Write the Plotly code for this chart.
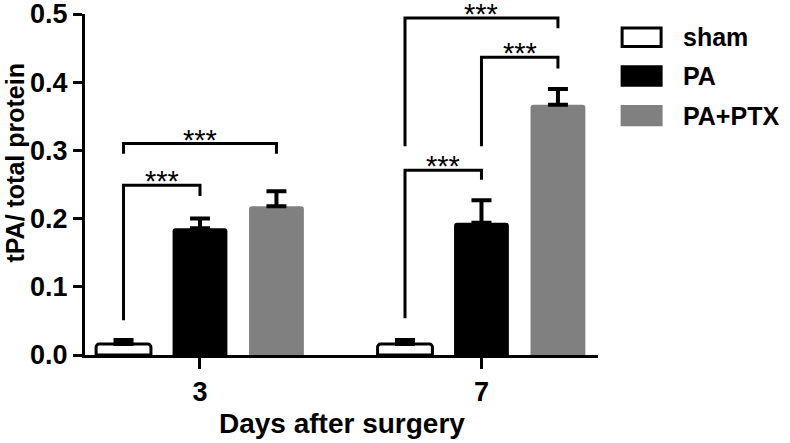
import plotly.graph_objects as go

days = ["3", "7"]
groups = ["sham", "PA", "PA+PTX"]
means = {
    "sham": [0.016, 0.016],
    "PA": [0.186, 0.194],
    "PA+PTX": [0.218, 0.367],
}
sems = {
    "sham": [0.006, 0.006],
    "PA": [0.014, 0.033],
    "PA+PTX": [0.022, 0.023],
}
colors = {"sham": "white", "PA": "black", "PA+PTX": "#808080"}
y_ticks = [0.0, 0.1, 0.2, 0.3, 0.4, 0.5]

# significance brackets: (day index, group a, group b, bar height, leg a end, leg b end)
brackets = [
    (0, 0, 1, 0.249, 0.051, 0.233),
    (0, 0, 2, 0.310, 0.295, 0.295),
    (1, 0, 1, 0.271, 0.054, 0.257),
    (1, 1, 2, 0.4365, 0.306, 0.420),
    (1, 0, 2, 0.494, 0.306, 0.479),
]
stars = "***"

FONT = "Liberation Sans, Arial, sans-serif"
bargap = 0.185
slot = (1 - bargap) / 3

fig = go.Figure()
for g in groups:
    fig.add_trace(go.Bar(
        x=[0, 1], y=means[g], name=g,
        marker=dict(color=colors[g], line=dict(color="black", width=3 if g == "sham" else 0),
                    cornerradius=3),
        error_y=dict(type="data", array=sems[g], symmetric=False, arrayminus=[0, 0],
                     color="black", thickness=4, width=10),
        showlegend=False,
    ))

for day, a, b, h, ya, yb in brackets:
    xa = day + (a - 1) * slot
    xb = day + (b - 1) * slot
    fig.add_shape(type="path", xref="x", yref="y",
                  path=f"M {xa} {ya} L {xa} {h} L {xb} {h} L {xb} {yb}",
                  line=dict(color="black", width=3))
    fig.add_annotation(x=(xa + xb) / 2, y=h, xref="x", yref="y", text=stars,
                       showarrow=False, yanchor="middle", yshift=4,
                       font=dict(family=FONT, size=29, color="black"))

# legend drawn by hand so the keys are wide rounded boxes
legend_rows = [(0.932, "sham"), (0.818, "PA"), (0.702, "PA+PTX")]
for yc, g in legend_rows:
    fig.add_shape(type="rect", xref="paper", yref="paper",
                  x0=1.047, x1=1.123, y0=yc - 0.027, y1=yc + 0.027,
                  fillcolor=colors[g], line=dict(color="black" if g == "sham" else colors[g], width=3))
    fig.add_annotation(x=1.161, y=yc, xref="paper", yref="paper", text=g, showarrow=False,
                       xanchor="left", yanchor="middle",
                       font=dict(family=FONT, size=25, color="black", weight="bold"))

fig.add_annotation(x=-0.136, y=0.565, xref="paper", yref="paper", text="tPA/ total protein",
                   textangle=-90, showarrow=False, xanchor="center", yanchor="middle",
                   font=dict(family=FONT, size=25, color="black", weight="bold"))
fig.add_annotation(x=0.5, y=-0.2, xref="paper", yref="paper", text="Days after surgery",
                   showarrow=False, xanchor="center", yanchor="middle",
                   font=dict(family=FONT, size=28, color="black", weight="bold"))

fig.update_layout(
    width=790, height=443,
    margin=dict(l=85, r=192, t=14, b=88),
    paper_bgcolor="white", plot_bgcolor="white",
    barmode="group", bargap=bargap, bargroupgap=0.283,
    font=dict(family=FONT, size=27, color="black"),
)
fig.update_xaxes(
    range=[-0.4085, 1.414], tickvals=[0, 1], ticktext=days, automargin=False,
    showline=True, linecolor="black", linewidth=3, showgrid=False, zeroline=False,
    ticks="outside", ticklen=11, tickwidth=3, tickcolor="black",
    tickfont=dict(family=FONT, size=27, weight="bold"),
)
fig.update_yaxes(
    range=[0, 0.5], tickvals=y_ticks, ticktext=[f"{v:.1f}" for v in y_ticks], automargin=False,
    showline=True, linecolor="black", linewidth=3, showgrid=False, zeroline=False,
    ticks="outside", ticklen=9, tickwidth=3, tickcolor="black", ticklabeloverflow="allow",
    tickfont=dict(family=FONT, size=27, weight="bold"),
)

# drop the page's default body margin so the figure sits at the window's corner
fig.write_html("out.html", config={"displayModeBar": False},
               post_script="document.body.style.margin='0';")
